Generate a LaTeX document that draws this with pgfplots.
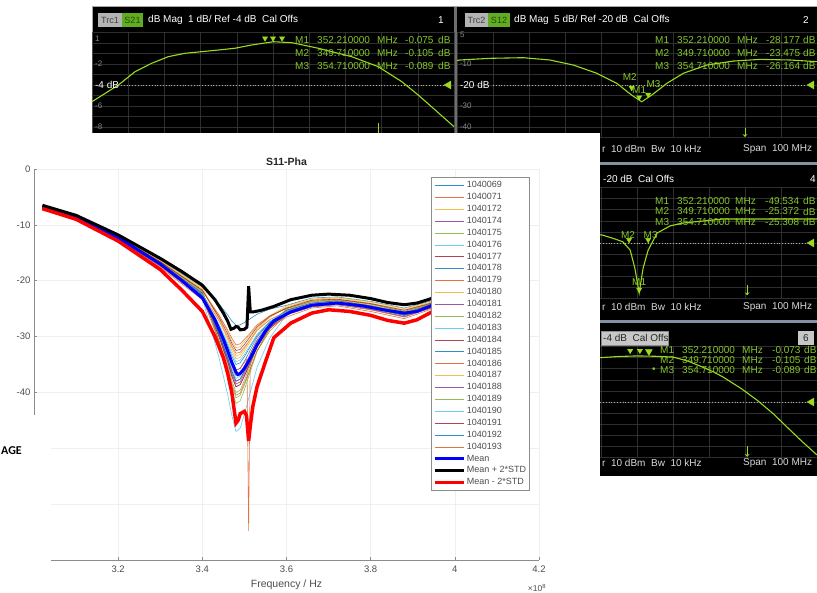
\documentclass[border=0pt]{standalone}
\usepackage{pgfplots}
\pgfplotsset{compat=1.18}
\usepackage{fontspec}
\setmainfont{Liberation Sans}
\newfontfamily\agefont{Carlito}
\usetikzlibrary{arrows.meta}

\definecolor{vnag}{HTML}{9ADB1E}
\definecolor{vnat}{HTML}{86C72A}
\definecolor{vnagrid}{HTML}{3A3A3A}
\definecolor{vnalbl}{HTML}{8A8A8A}
\definecolor{vnaref}{HTML}{B0B0B0}
\definecolor{trcbox}{HTML}{B4B4B4}
\definecolor{sbox}{HTML}{5FAE22}
\definecolor{sepgray}{HTML}{6E6E6E}
\definecolor{sepblue}{HTML}{8492A4}
\definecolor{axcol}{HTML}{8C8C8C}
\definecolor{gridcol}{HTML}{EBEBEB}
\definecolor{tickcol}{HTML}{4D4D4D}
\definecolor{titlecol}{HTML}{262626}
\definecolor{legframe}{HTML}{8C8C8C}
\definecolor{mA}{HTML}{0072BD}
\definecolor{mB}{HTML}{D95319}
\definecolor{mC}{HTML}{EDB120}
\definecolor{mD}{HTML}{7E2F8E}
\definecolor{mE}{HTML}{77AC30}
\definecolor{mF}{HTML}{4DBEEE}
\definecolor{mG}{HTML}{A2142F}

\tikzset{mt/.style={anchor=west, inner sep=0pt, text=vnat, font=\fontsize{10}{10}\selectfont},
 wt/.style={anchor=west, inner sep=0pt, text=white, font=\fontsize{10}{10}\selectfont},
 st/.style={anchor=west, inner sep=0pt, text=black!15, font=\fontsize{10}{10}\selectfont},
 gl/.style={anchor=west, inner sep=0pt, text=vnalbl, font=\fontsize{8}{8}\selectfont}}

\newcommand{\mrow}[9]{%
 \node[mt] at (#1,#9) {#2};
 \node[mt] at (#3,#9) {#4};
 \node[mt] at (#5,#9) {MHz};
 \node[mt] at (#6,#9) {#7};
 \node[mt] at (#8,#9) {dB};}

\pgfplotsset{
 vna/.style={scale only axis, clip=false, anchor=south west, xmin=0, xmax=10, xtick={0,...,10},
   axis line style={draw=none}, major tick length=0pt, xticklabels={}, yticklabels={},
   grid=major, major grid style={draw=vnagrid, line width=0.5pt}},
 trace/.style={vnag, line width=1.1pt, mark=none},
 refl/.style={vnaref, dotted, line width=0.8pt, mark=none},
 mk/.style={only marks, mark=triangle*, mark size=3pt, mark options={rotate=180, fill=vnag, draw=vnag}},
 reftri/.style={only marks, mark=triangle*, mark size=4.5pt, mark options={rotate=90, fill=vnag, draw=vnag}},
 stim/.style={vnag, line width=0.8pt, mark=none, -{Stealth[length=3pt,width=5pt,open]}},
 thin/.style={line width=0.6pt, mark=none, opacity=0.8},
}

\begin{document}
\begin{tikzpicture}[x=1pt,y=1pt]
\useasboundingbox (0,0) rectangle (817,593);
\begin{scope}
\clip (0,0) rectangle (817,593);

% ---------------- VNA screen background ----------------
\fill[black] (92,117) rectangle (817,586);
\draw[black!35, line width=1pt] (92,586.5) -- (817,586.5);
\draw[black!35, line width=1pt] (92,300) -- (92,586.5);
\fill[sepgray] (454,429) rectangle (457,586);
\fill[sepblue] (454,428) rectangle (817,431);
\fill[sepblue] (454,270) rectangle (817,273);

% ---------------- Panel 1 ----------------
\begin{axis}[vna, at={(92pt,455.5pt)}, width=362pt, height=105pt, ymin=-9, ymax=1, ytick={-9,...,1}]
\addplot[refl] coordinates {(0.8,-4)(9.7,-4)};
\addplot[trace] coordinates {(0,-5.59)(0.73,-4.0)(1.19,-2.73)(1.65,-1.93)(2.11,-1.30)(2.57,-0.98)(3.49,-0.67)(3.95,-0.50)(4.41,-0.19)(5.01,0.12)(5.52,0.03)(6.25,-0.50)(7.17,-1.30)(7.91,-2.26)(8.56,-3.69)(9.01,-4.95)(9.48,-6.38)(10,-7.97)};
\addplot[mk] coordinates {(4.78,0.45)(5.0,0.45)(5.25,0.45)};
\addplot[reftri] coordinates {(9.85,-4)};
\addplot[vnag, line width=0.9pt, mark=none] coordinates {(7.9,-7.6)(7.9,-9)};
\node[gl] at (axis cs:0.08,0.45) {1};
\node[gl] at (axis cs:0.08,-2) {-2};
\node[wt] at (axis cs:0.08,-4) {-4 dB};
\node[gl] at (axis cs:0.08,-6) {-6};
\node[gl] at (axis cs:0.08,-8) {-8};
\end{axis}

% ---------------- Panel 2 ----------------
\begin{axis}[vna, at={(457pt,455.5pt)}, width=360pt, height=105pt, ymin=-45, ymax=5, ytick={-45,-40,...,5}]
\addplot[refl] coordinates {(1.0,-20)(9.7,-20)};
\addplot[trace] coordinates {(0,-8.3)(0.08,-8.1)(0.92,-7.3)(1.84,-7.0)(2.58,-8.1)(3.23,-10.5)(3.88,-14.4)(4.44,-19.2)(4.85,-24.8)(5.13,-28.0)(5.41,-24.8)(5.83,-19.2)(6.29,-14.4)(6.94,-10.5)(7.68,-8.6)(8.42,-7.8)(9.25,-8.1)(10,-8.9)};
\addplot[mk] coordinates {(4.85,-21.3)(5.06,-25.9)(5.31,-24.6)};
\addplot[reftri] coordinates {(9.85,-20)};
\addplot[stim] coordinates {(8.0,-40.5)(8.0,-44.8)};
\node[mt, anchor=center] at (axis cs:4.80,-16.4) {M2};
\node[mt, anchor=center] at (axis cs:5.06,-22.2) {M1};
\node[mt, anchor=center] at (axis cs:5.46,-19.6) {M3};
\node[gl] at (axis cs:0.08,4.0) {5};
\node[gl] at (axis cs:0.08,-10) {-10};
\node[wt] at (axis cs:0.08,-20) {-20 dB};
\node[gl] at (axis cs:0.08,-30) {-30};
\node[gl] at (axis cs:0.08,-40) {-40};
\end{axis}

% ---------------- Panel 4 ----------------
\begin{axis}[vna, at={(457pt,294.5pt)}, width=360pt, height=111pt, ymin=-45, ymax=5, ytick={-45,-40,...,5}]
\addplot[refl] coordinates {(3.9,-20)(9.7,-20)};
\addplot[trace] coordinates {(3.5,-15.5)(4.03,-16.4)(4.39,-18.2)(4.61,-19.5)(4.81,-23.2)(4.94,-31.3)(5.06,-42.5)(5.17,-31.3)(5.31,-23.2)(5.56,-15.5)(5.92,-12.3)(6.28,-11.0)(7.39,-9.2)(8.69,-9.2)(10,-9.2)};
\addplot[mk] coordinates {(4.78,-18.6)(5.31,-18.6)(5.06,-41.0)};
\addplot[reftri] coordinates {(9.85,-20)};
\addplot[stim] coordinates {(8.06,-38.9)(8.06,-43.6)};
\node[mt, anchor=center] at (axis cs:4.75,-16.3) {M2};
\node[mt, anchor=center] at (axis cs:5.38,-16.3) {M3};
\node[mt, anchor=center] at (axis cs:5.06,-37.6) {M1};
\end{axis}

% ---------------- Panel 6 ----------------
\begin{axis}[vna, at={(457pt,135.5pt)}, width=360pt, height=111pt, ymin=-9, ymax=1, ytick={-9,...,1}]
\addplot[refl] coordinates {(3.9,-4)(9.7,-4)};
\addplot[trace] coordinates {(3.5,-0.1)(4.0,0.0)(4.5,0.1)(5.0,0.15)(5.5,0.12)(6.0,0.05)(6.4,-0.3)(6.75,-0.76)(7.1,-1.25)(7.39,-1.75)(7.9,-2.8)(8.33,-3.82)(8.8,-5.1)(9.25,-6.52)(9.6,-7.6)(10,-8.77)};
\addplot[mk] coordinates {(4.81,0.62)(5.08,0.62)};
\addplot[mk, mark size=4pt] coordinates {(5.33,0.55)};
\addplot[reftri] coordinates {(9.85,-4)};
\addplot[stim] coordinates {(8.06,-8.0)(8.06,-8.95)};
\end{axis}

% headers
\fill[trcbox] (98,566) rectangle (122,580);
\node[inner sep=0pt, text=black!75, font=\fontsize{9}{9}\selectfont] at (110,573) {Trc1};
\fill[sbox] (122,566) rectangle (143,580);
\node[inner sep=0pt, text=black!70!vnag, font=\fontsize{9}{9}\selectfont] at (132.5,573) {S21};
\node[wt] at (148,573) {dB Mag\ \ 1 dB/ Ref -4 dB\ \ Cal Offs};
\node[wt, anchor=center] at (441,573) {1};

\fill[trcbox] (465,566) rectangle (488,580);
\node[inner sep=0pt, text=black!75, font=\fontsize{9}{9}\selectfont] at (476.5,573) {Trc2};
\fill[sbox] (488,566) rectangle (510,580);
\node[inner sep=0pt, text=black!70!vnag, font=\fontsize{9}{9}\selectfont] at (499,573) {S12};
\node[wt] at (514,573) {dB Mag\ \ 5 dB/ Ref -20 dB\ \ Cal Offs};
\node[wt, anchor=center] at (806,573) {2};

\node[wt] at (603,414) {-20 dB\ \ Cal Offs};
\node[wt, anchor=center] at (813,414) {4};

\fill[black!22] (601,248) rectangle (668,262);
\draw[black!45] (601,248) rectangle (668,262);
\node[anchor=west, inner sep=0pt, text=black!85, font=\fontsize{10}{10}\selectfont] at (603,255) {-4 dB\ \ Cal Offs};
\fill[black!22] (798,248) rectangle (814,262);
\node[inner sep=0pt, text=black!85, font=\fontsize{10}{10}\selectfont] at (806,255) {6};

% marker readouts
\mrow{295}{M1}{317}{352.210000}{377}{405}{-0.075}{438}{553}
\mrow{295}{M2}{317}{349.710000}{377}{405}{-0.105}{438}{540}
\mrow{295}{M3}{317}{354.710000}{377}{405}{-0.089}{438}{527}
\mrow{655}{M1}{677}{352.210000}{737}{766}{-28.177}{803}{553}
\mrow{655}{M2}{677}{349.710000}{737}{766}{-23.475}{803}{540}
\mrow{655}{M3}{677}{354.710000}{737}{766}{-26.164}{803}{527}
\mrow{655}{M1}{677}{352.210000}{735}{765}{-49.534}{803}{392}
\mrow{655}{M2}{677}{349.710000}{735}{765}{-25.372}{803}{381.5}
\mrow{655}{M3}{677}{354.710000}{735}{765}{-25.308}{803}{371}
\mrow{660}{M1}{682}{352.210000}{742}{772}{-0.073}{804}{243}
\mrow{660}{M2}{682}{349.710000}{742}{772}{-0.105}{804}{233}
\mrow{660}{M3}{682}{354.710000}{742}{772}{-0.089}{804}{223}
\node[mt] at (652,223) {\textbullet};

% status bars
\node[st] at (602,444) {r\ \ 10 dBm\ \ Bw\ \ 10 kHz};
\node[st] at (743,444) {Span\ \ 100 MHz};
\node[st] at (602,286) {r\ \ 10 dBm\ \ Bw\ \ 10 kHz};
\node[st] at (743,286) {Span\ \ 100 MHz};
\node[st] at (602,130) {r\ \ 10 dBm\ \ Bw\ \ 10 kHz};
\node[st] at (743,130) {Span\ \ 100 MHz};

% ---------------- MATLAB figure ----------------
\fill[white] (0,0) rectangle (600,460);

\begin{axis}[
  name=mainax,
  at={(34pt,33pt)}, anchor=south west, scale only axis, width=505pt, height=391pt,
  xmin=3.0, xmax=4.2, ymin=-70, ymax=0,
  axis x line*=bottom, axis y line*=left,
  axis line style={draw=axcol, line width=0.6pt, -},
  xtick={3.2,3.4,3.6,3.8,4,4.2}, ytick={-70,-60,...,0},
  yticklabels={,,,-40,-30,-20,-10,0},
  tick align=inside, major tick length=3pt, tick style={draw=axcol, line width=0.5pt},
  grid=major, major grid style={draw=gridcol, line width=0.5pt},
  ticklabel style={font=\fontsize{9.5}{10}\selectfont, text=tickcol},
  /pgf/number format/assume math mode=true,
  xticklabel style={yshift=-2pt},
  title={S11-Pha},
  title style={font=\bfseries\fontsize{10.5}{11}\selectfont, text=titlecol, at={(0.5,1)}, anchor=center, yshift=1pt},
  xlabel={Frequency / Hz},
  xlabel style={font=\fontsize{10.5}{11}\selectfont, text=tickcol, at={(0.5,0)}, anchor=center, yshift=-25pt},
  legend cell align=left,
  legend style={at={(0.982,0.979)}, anchor=north east, draw=legframe, line width=0.5pt, fill=white,
    font=\fontsize{9}{9}\selectfont, text=tickcol, row sep=0pt, inner xsep=2pt, inner ysep=2pt,
    nodes={inner ysep=2.05pt, inner xsep=1.5pt}},
  legend image code/.code={\draw[#1] (0pt,0pt) -- (29pt,0pt);},
]
\addplot[thin, mA] coordinates {(3.02,-6.6)(3.10,-8.4)(3.20,-12.0)(3.30,-16.3)(3.40,-21.1)(3.44,-24.2)(3.46,-26.1)(3.47,-27.2)(3.48,-28.0)(3.49,-27.9)(3.50,-27.5)(3.51,-27.0)(3.53,-26.0)(3.56,-25.1)(3.60,-24.4)(3.66,-23.1)(3.72,-22.9)(3.80,-23.7)(3.88,-24.9)(3.94,-23.7)(4.00,-21.9)};
\addlegendentry{1040069}
\addplot[thin, mB] coordinates {(3.02,-6.8)(3.10,-8.7)(3.20,-12.4)(3.30,-17.0)(3.40,-22.4)(3.44,-27.2)(3.46,-30.0)(3.47,-31.7)(3.48,-33.0)(3.49,-32.8)(3.50,-31.9)(3.51,-30.9)(3.53,-28.9)(3.56,-27.0)(3.60,-25.5)(3.66,-24.1)(3.72,-23.8)(3.80,-24.7)(3.88,-25.9)(3.94,-24.6)(4.00,-22.5)};
\addlegendentry{1040071}
\addplot[thin, mC] coordinates {(3.02,-6.7)(3.10,-8.5)(3.20,-12.1)(3.30,-16.6)(3.40,-21.7)(3.44,-26.3)(3.46,-29.1)(3.47,-30.8)(3.48,-32.0)(3.49,-31.8)(3.50,-30.9)(3.51,-30.0)(3.53,-28.1)(3.56,-26.3)(3.60,-24.9)(3.66,-23.5)(3.72,-23.3)(3.80,-24.1)(3.88,-25.3)(3.94,-24.1)(4.00,-22.1)};
\addlegendentry{1040172}
\addplot[thin, mD] coordinates {(3.02,-6.9)(3.10,-8.7)(3.20,-12.5)(3.30,-17.2)(3.40,-22.7)(3.44,-30.0)(3.46,-34.4)(3.47,-37.0)(3.48,-39.0)(3.49,-38.6)(3.50,-37.0)(3.51,-35.3)(3.53,-31.7)(3.56,-28.4)(3.60,-25.8)(3.66,-24.4)(3.72,-24.0)(3.80,-24.9)(3.88,-26.2)(3.94,-24.8)(4.00,-22.7)};
\addlegendentry{1040174}
\addplot[thin, mE] coordinates {(3.02,-6.8)(3.10,-8.7)(3.20,-12.4)(3.30,-17.0)(3.40,-22.4)(3.44,-30.8)(3.46,-35.8)(3.47,-38.8)(3.48,-41.0)(3.49,-40.5)(3.50,-38.7)(3.51,-36.7)(3.53,-32.5)(3.56,-28.6)(3.60,-25.5)(3.66,-24.1)(3.72,-23.8)(3.80,-24.7)(3.88,-25.9)(3.94,-24.6)(4.00,-22.5)};
\addlegendentry{1040175}
\addplot[thin, mF] coordinates {(3.02,-6.9)(3.10,-8.8)(3.20,-12.6)(3.30,-17.4)(3.40,-23.1)(3.44,-33.9)(3.46,-40.3)(3.47,-44.1)(3.48,-47.0)(3.49,-46.4)(3.50,-43.9)(3.51,-41.1)(3.53,-35.5)(3.56,-30.3)(3.60,-26.1)(3.66,-24.7)(3.72,-24.3)(3.80,-25.2)(3.88,-26.5)(3.94,-25.0)(4.00,-22.9)};
\addlegendentry{1040176}
\addplot[thin, mG] coordinates {(3.02,-6.8)(3.10,-8.7)(3.20,-12.4)(3.30,-17.1)(3.40,-22.5)(3.44,-29.7)(3.46,-34.0)(3.47,-36.6)(3.48,-38.5)(3.49,-38.1)(3.50,-36.6)(3.51,-34.9)(3.53,-31.5)(3.56,-28.3)(3.60,-25.7)(3.66,-24.2)(3.72,-23.9)(3.80,-24.8)(3.88,-26.1)(3.94,-24.7)(4.00,-22.6)};
\addlegendentry{1040177}
\addplot[thin, mA] coordinates {(3.02,-6.8)(3.10,-8.6)(3.20,-12.3)(3.30,-16.9)(3.40,-22.2)(3.44,-28.4)(3.46,-32.1)(3.47,-34.3)(3.48,-36.0)(3.49,-35.7)(3.50,-34.4)(3.51,-33.0)(3.53,-30.1)(3.56,-27.4)(3.60,-25.3)(3.66,-24.0)(3.72,-23.6)(3.80,-24.5)(3.88,-25.8)(3.94,-24.4)(4.00,-22.4)};
\addlegendentry{1040178}
\addplot[thin, mB] coordinates {(3.02,-6.7)(3.10,-8.5)(3.20,-12.2)(3.30,-16.7)(3.40,-21.8)(3.44,-26.2)(3.46,-28.8)(3.47,-30.3)(3.48,-31.5)(3.49,-31.3)(3.50,-30.5)(3.51,-29.7)(3.53,-27.9)(3.56,-26.3)(3.60,-25.0)(3.66,-23.7)(3.72,-23.4)(3.80,-24.2)(3.88,-25.5)(3.94,-24.2)(4.00,-22.2)};
\addlegendentry{1040179}
\addplot[thin, mC] coordinates {(3.02,-6.7)(3.10,-8.5)(3.20,-12.1)(3.30,-16.5)(3.40,-21.5)(3.44,-27.1)(3.46,-30.5)(3.47,-32.5)(3.48,-34.0)(3.49,-33.7)(3.50,-32.6)(3.51,-31.4)(3.53,-28.9)(3.56,-26.6)(3.60,-24.7)(3.66,-23.4)(3.72,-23.1)(3.80,-24.0)(3.88,-25.2)(3.94,-24.0)(4.00,-22.1)};
\addlegendentry{1040180}
\addplot[thin, mD] coordinates {(3.02,-6.8)(3.10,-8.7)(3.20,-12.4)(3.30,-17.1)(3.40,-22.5)(3.44,-29.5)(3.46,-33.7)(3.47,-36.1)(3.48,-38.0)(3.49,-37.6)(3.50,-36.2)(3.51,-34.6)(3.53,-31.2)(3.56,-28.2)(3.60,-25.7)(3.66,-24.2)(3.72,-23.9)(3.80,-24.8)(3.88,-26.1)(3.94,-24.7)(4.00,-22.6)};
\addlegendentry{1040181}
\addplot[thin, mE] coordinates {(3.02,-6.7)(3.10,-8.6)(3.20,-12.2)(3.30,-16.8)(3.40,-22.0)(3.44,-30.1)(3.46,-35.0)(3.47,-37.8)(3.48,-40.0)(3.49,-39.6)(3.50,-37.8)(3.51,-35.9)(3.53,-31.9)(3.56,-28.2)(3.60,-25.2)(3.66,-23.8)(3.72,-23.5)(3.80,-24.4)(3.88,-25.6)(3.94,-24.3)(4.00,-22.3)};
\addlegendentry{1040182}
\addplot[thin, mF] coordinates {(3.02,-6.9)(3.10,-8.7)(3.20,-12.5)(3.30,-17.2)(3.40,-22.7)(3.44,-29.4)(3.46,-33.4)(3.47,-35.7)(3.48,-37.5)(3.49,-37.1)(3.50,-35.7)(3.51,-34.2)(3.53,-31.1)(3.56,-28.1)(3.60,-25.8)(3.66,-24.4)(3.72,-24.0)(3.80,-24.9)(3.88,-26.2)(3.94,-24.8)(4.00,-22.7)};
\addlegendentry{1040183}
\addplot[thin, mG] coordinates {(3.02,-6.9)(3.10,-8.8)(3.20,-12.5)(3.30,-17.3)(3.40,-22.9)(3.44,-30.1)(3.46,-34.5)(3.47,-37.1)(3.48,-39.0)(3.49,-38.6)(3.50,-37.1)(3.51,-35.4)(3.53,-31.9)(3.56,-28.6)(3.60,-26.0)(3.66,-24.5)(3.72,-24.1)(3.80,-25.1)(3.88,-26.4)(3.94,-24.9)(4.00,-22.8)};
\addlegendentry{1040184}
\addplot[thin, mA] coordinates {(3.02,-6.8)(3.10,-8.7)(3.20,-12.4)(3.30,-17.0)(3.40,-22.4)(3.44,-28.1)(3.46,-31.5)(3.47,-33.5)(3.48,-35.0)(3.49,-34.7)(3.50,-33.6)(3.51,-32.3)(3.53,-29.8)(3.56,-27.4)(3.60,-25.5)(3.66,-24.1)(3.72,-23.8)(3.80,-24.7)(3.88,-25.9)(3.94,-24.6)(4.00,-22.5)};
\addlegendentry{1040185}
\addplot[thin, mB] coordinates {(3.02,-7.0)(3.10,-8.9)(3.20,-12.7)(3.30,-17.6)(3.40,-23.4)(3.44,-29.1)(3.46,-32.5)(3.47,-34.5)(3.48,-36.0)(3.49,-35.7)(3.50,-34.6)(3.506,-34.0)(3.510,-64.8)(3.514,-33.0)(3.53,-30.8)(3.56,-28.4)(3.60,-26.5)(3.66,-24.9)(3.72,-24.5)(3.80,-25.5)(3.88,-26.8)(3.94,-25.2)(4.00,-23.0)};
\addlegendentry{1040186}
\addplot[thin, mC] coordinates {(3.02,-6.6)(3.10,-8.4)(3.20,-12.0)(3.30,-16.4)(3.40,-21.3)(3.44,-26.8)(3.46,-30.1)(3.47,-32.0)(3.48,-33.5)(3.49,-33.2)(3.50,-32.2)(3.51,-31.0)(3.53,-28.6)(3.56,-26.3)(3.60,-24.5)(3.66,-23.3)(3.72,-23.0)(3.80,-23.8)(3.88,-25.0)(3.94,-23.9)(4.00,-22.0)};
\addlegendentry{1040187}
\addplot[thin, mD] coordinates {(3.02,-6.8)(3.10,-8.6)(3.20,-12.3)(3.30,-16.9)(3.40,-22.2)(3.44,-28.9)(3.46,-32.9)(3.47,-35.2)(3.48,-37.0)(3.49,-36.6)(3.50,-35.2)(3.51,-33.7)(3.53,-30.6)(3.56,-27.6)(3.60,-25.3)(3.66,-24.0)(3.72,-23.6)(3.80,-24.5)(3.88,-25.8)(3.94,-24.4)(4.00,-22.4)};
\addlegendentry{1040188}
\addplot[thin, mE] coordinates {(3.02,-6.7)(3.10,-8.5)(3.20,-12.2)(3.30,-16.7)(3.40,-21.8)(3.44,-30.9)(3.46,-36.3)(3.47,-39.6)(3.48,-42.0)(3.49,-41.5)(3.50,-39.5)(3.51,-37.2)(3.53,-32.7)(3.56,-28.4)(3.60,-25.0)(3.66,-23.7)(3.72,-23.4)(3.80,-24.2)(3.88,-25.5)(3.94,-24.2)(4.00,-22.2)};
\addlegendentry{1040189}
\addplot[thin, mF] coordinates {(3.02,-6.8)(3.10,-8.7)(3.20,-12.4)(3.30,-17.0)(3.40,-22.4)(3.44,-27.8)(3.46,-31.1)(3.47,-33.0)(3.48,-34.5)(3.49,-34.2)(3.50,-33.2)(3.51,-32.0)(3.53,-29.6)(3.56,-27.3)(3.60,-25.5)(3.66,-24.1)(3.72,-23.8)(3.80,-24.7)(3.88,-25.9)(3.94,-24.6)(4.00,-22.5)};
\addlegendentry{1040190}
\addplot[thin, mG] coordinates {(3.02,-6.7)(3.10,-8.5)(3.20,-12.1)(3.30,-16.6)(3.40,-21.7)(3.44,-26.6)(3.46,-29.5)(3.47,-31.2)(3.48,-32.5)(3.49,-32.3)(3.50,-31.4)(3.51,-30.4)(3.53,-28.3)(3.56,-26.4)(3.60,-24.9)(3.66,-23.5)(3.72,-23.3)(3.80,-24.1)(3.88,-25.3)(3.94,-24.1)(4.00,-22.1)};
\addlegendentry{1040191}
\addplot[thin, mA] coordinates {(3.02,-6.9)(3.10,-8.7)(3.20,-12.5)(3.30,-17.2)(3.40,-22.7)(3.44,-29.6)(3.46,-33.7)(3.47,-36.2)(3.48,-38.0)(3.49,-37.6)(3.50,-36.2)(3.51,-34.6)(3.53,-31.3)(3.56,-28.2)(3.60,-25.8)(3.66,-24.4)(3.72,-24.0)(3.80,-24.9)(3.88,-26.2)(3.94,-24.8)(4.00,-22.7)};
\addlegendentry{1040192}
\addplot[thin, mB] coordinates {(3.02,-6.9)(3.10,-8.8)(3.20,-12.6)(3.30,-17.4)(3.40,-23.1)(3.44,-30.9)(3.46,-35.6)(3.47,-38.4)(3.48,-40.5)(3.49,-40.1)(3.50,-38.3)(3.51,-36.5)(3.53,-32.6)(3.56,-29.0)(3.60,-26.1)(3.66,-24.7)(3.72,-24.3)(3.80,-25.2)(3.88,-26.5)(3.94,-25.0)(4.00,-22.9)};
\addlegendentry{1040193}
\addplot[blue, line width=3pt, mark=none] coordinates {(3.02,-6.8)(3.10,-8.6)(3.20,-12.3)(3.30,-17.0)(3.35,-19.9)(3.40,-23.1)(3.43,-27.0)(3.45,-30.5)(3.46,-32.5)(3.47,-34.6)(3.48,-36.4)(3.485,-36.8)(3.49,-36.6)(3.50,-35.7)(3.51,-34.4)(3.52,-33.0)(3.53,-31.5)(3.55,-29.0)(3.57,-27.2)(3.61,-25.6)(3.66,-24.4)(3.72,-24.0)(3.78,-24.5)(3.83,-25.2)(3.88,-25.8)(3.91,-25.5)(3.94,-24.6)(4.00,-22.5)};
\addlegendentry{Mean}
\addplot[black, line width=3pt, mark=none] coordinates {(3.02,-6.5)(3.10,-8.3)(3.20,-11.8)(3.30,-16.0)(3.35,-18.3)(3.40,-20.8)(3.43,-23.4)(3.45,-25.8)(3.46,-27.2)(3.468,-28.7)(3.475,-28.5)(3.48,-28.2)(3.485,-28.3)(3.49,-28.8)(3.50,-28.7)(3.506,-28.3)(3.510,-21.0)(3.514,-25.6)(3.52,-25.6)(3.54,-25.3)(3.57,-24.6)(3.61,-23.4)(3.66,-22.6)(3.70,-22.4)(3.75,-22.6)(3.80,-23.2)(3.84,-23.9)(3.88,-24.3)(3.91,-24.0)(3.94,-23.3)(4.00,-21.5)};
\addlegendentry{Mean + 2*STD}
\addplot[red, line width=3.5pt, mark=none] coordinates {(3.02,-7.1)(3.10,-9.0)(3.20,-12.9)(3.30,-18.0)(3.35,-21.6)(3.40,-25.5)(3.43,-30.0)(3.45,-33.8)(3.46,-36.5)(3.47,-40.0)(3.48,-45.5)(3.485,-45.0)(3.49,-43.8)(3.50,-43.4)(3.505,-44.2)(3.51,-48.7)(3.514,-46.0)(3.52,-42.5)(3.53,-39.0)(3.55,-34.5)(3.57,-30.2)(3.61,-27.6)(3.66,-25.8)(3.70,-25.2)(3.75,-25.5)(3.80,-26.2)(3.84,-27.1)(3.88,-27.6)(3.91,-27.0)(3.94,-25.8)(4.00,-23.5)};
\addlegendentry{Mean - 2*STD}
\end{axis}
\node[inner sep=0pt, text=tickcol, font=\fontsize{8.5}{9}\selectfont, xshift=-2pt, yshift=-28pt] at (mainax.south east) {×10\textsuperscript{8}};

% cover over lower-left of the figure and the cut-off slide word
\fill[white] (0,0) rectangle (51,178);
\node[anchor=east, inner sep=0pt, font=\agefont\bfseries\fontsize{12}{12}\selectfont] at (22,142) {AGE};
\end{scope}
\end{tikzpicture}
\end{document}
